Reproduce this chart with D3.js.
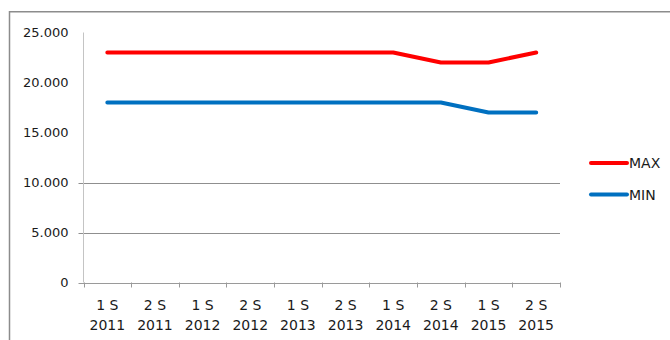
<!DOCTYPE html>
<html>
<head>
<meta charset="utf-8">
<script src="https://cdn.jsdelivr.net/npm/d3@7"></script>
<style>
  html, body { margin: 0; padding: 0; background: #fff; }
  svg { display: block; }
  text { font-family: "DejaVu Sans", Verdana, sans-serif; fill: #1a1a1a; }
</style>
</head>
<body>
<svg id="chart" width="670" height="340"></svg>
<script>
const categories = ["1 S 2011", "2 S 2011", "1 S 2012", "2 S 2012", "1 S 2013",
                    "2 S 2013", "1 S 2014", "2 S 2014", "1 S 2015", "2 S 2015"];
const maxValues = [23000, 23000, 23000, 23000, 23000, 23000, 23000, 22000, 22000, 23000];
const minValues = [18000, 18000, 18000, 18000, 18000, 18000, 18000, 18000, 17000, 17000];
const yTickValues = [0, 5000, 10000, 15000, 20000, 25000];
const gridValues = [0, 5000, 10000];
const seriesNames = ["MAX", "MIN"];
const seriesColors = ["#FF0000", "#0070C0"];

const series = [
  { name: seriesNames[0], values: maxValues, color: seriesColors[0] },
  { name: seriesNames[1], values: minValues, color: seriesColors[1] }
];

const svg = d3.select("#chart");

// outer frame (left + top visible)
svg.append("path")
  .attr("d", "M9.5,340 L9.5,11.75 L670,11.75")
  .attr("fill", "none")
  .attr("stroke", "#8c8c8c")
  .attr("stroke-width", 1.5);

const x = d3.scaleBand().domain(categories).range([83.5, 560]).padding(0);
const y = d3.scaleLinear().domain([0, 25000]).range([282.5, 32.5]);

const locale = d3.formatLocale({ decimal: ",", thousands: ".", grouping: [3], currency: ["", ""] });
const fmt = locale.format(",.0f");

// gridlines (only lower ones visible in reference)
svg.append("g").selectAll("line").data(gridValues).join("line")
  .attr("x1", 78.5).attr("x2", 560)
  .attr("y1", d => Math.round(y(d)) + 0.5).attr("y2", d => Math.round(y(d)) + 0.5)
  .attr("stroke", d => d === 0 ? "#9a9a9a" : "#8f8f8f")
  .attr("stroke-width", 1);

// y axis line
svg.append("line")
  .attr("x1", 83.5).attr("x2", 83.5)
  .attr("y1", y(25000)).attr("y2", y(0))
  .attr("stroke", "#c4c4c4");

// y axis labels
const yAxis = d3.axisLeft(y).tickValues(yTickValues).tickFormat(fmt).tickSize(0).tickPadding(15);
const gy = svg.append("g").attr("transform", "translate(83.5,0)").call(yAxis);
gy.select(".domain").remove();
gy.selectAll("text").style("font-size", "13px").style("font-family", "'DejaVu Sans', Verdana, sans-serif").attr("fill", "#1a1a1a");

// x axis ticks at band boundaries
const bounds = categories.map(c => x(c)).concat([x(categories[categories.length - 1]) + x.bandwidth()]);
svg.append("g").selectAll("line").data(bounds).join("line")
  .attr("x1", d => Math.round(d) + 0.5).attr("x2", d => Math.round(d) + 0.5)
  .attr("y1", 282.5).attr("y2", 287.5)
  .attr("stroke", "#9a9a9a");

// x labels (two lines)
const xl = svg.append("g").selectAll("text").data(categories).join("text")
  .attr("x", d => x(d) + x.bandwidth() / 2)
  .attr("text-anchor", "middle")
  .style("font-size", "14px");
xl.append("tspan").attr("x", d => x(d) + x.bandwidth() / 2).attr("y", 309.5)
  .text(d => d.slice(0, d.lastIndexOf(" ")));
xl.append("tspan").attr("x", d => x(d) + x.bandwidth() / 2).attr("y", 330)
  .text(d => d.slice(d.lastIndexOf(" ") + 1));

// lines
const line = d3.line()
  .x((d, i) => x(categories[i]) + x.bandwidth() / 2)
  .y(d => y(d));

svg.append("g").selectAll("path").data(series).join("path")
  .attr("d", d => line(d.values))
  .attr("fill", "none")
  .attr("stroke", d => d.color)
  .attr("stroke-width", 4)
  .attr("stroke-linecap", "round")
  .attr("stroke-linejoin", "round");

// legend
const lg = svg.append("g").selectAll("g").data(series).join("g")
  .attr("transform", (d, i) => `translate(0,${163 + i * 31.5})`);
lg.append("line")
  .attr("x1", 591).attr("x2", 627).attr("y1", 0).attr("y2", 0)
  .attr("stroke", d => d.color).attr("stroke-width", 4).attr("stroke-linecap", "round");
lg.append("text")
  .attr("x", 629).attr("y", 0).attr("dy", "0.36em")
  .style("font-size", "14px")
  .text(d => d.name);
</script>
</body>
</html>
